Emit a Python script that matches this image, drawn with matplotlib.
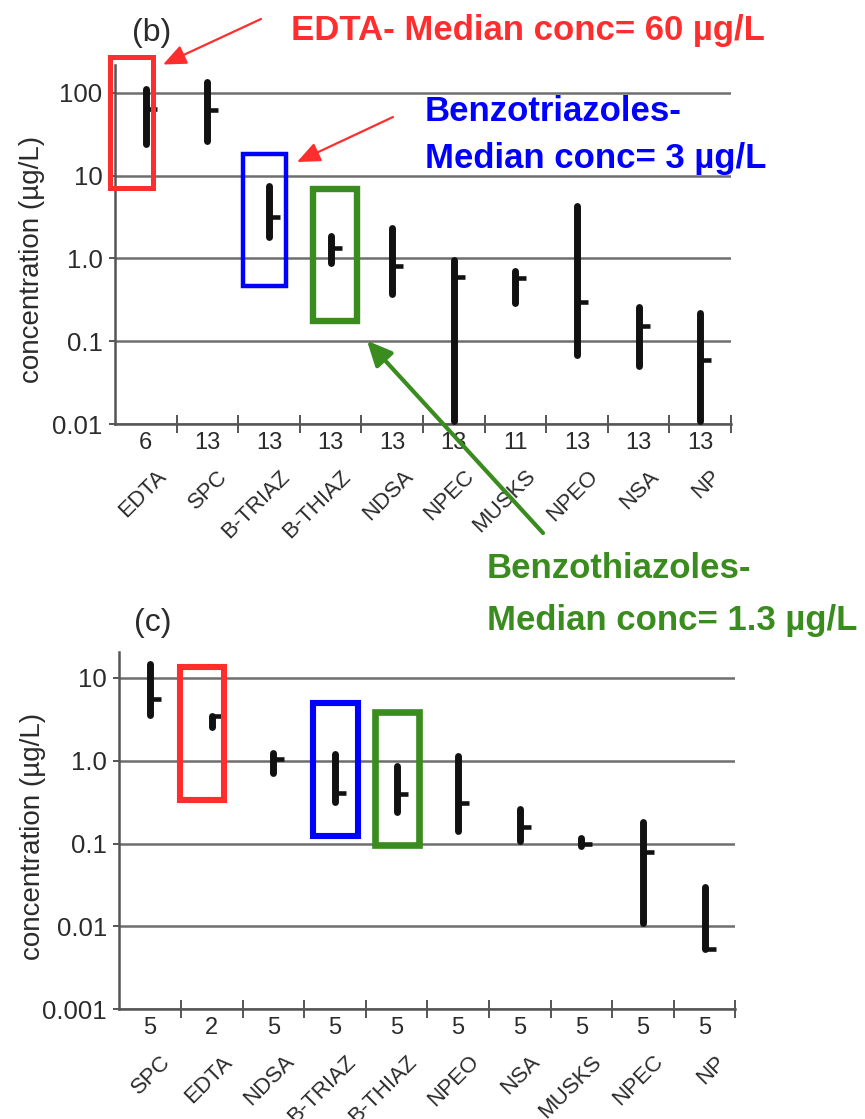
import matplotlib
matplotlib.use('Agg')
import matplotlib.pyplot as plt
from matplotlib.patches import Rectangle, FancyArrowPatch
from matplotlib.ticker import FixedLocator, NullLocator, FixedFormatter, NullFormatter
from matplotlib.transforms import offset_copy

plt.rcParams['font.family'] = ['Liberation Sans', 'DejaVu Sans']

# ---------------- data (panel b) ----------------
b_categories = ['EDTA', 'SPC', 'B-TRIAZ', 'B-THIAZ', 'NDSA', 'NPEC', 'MUSKS', 'NPEO', 'NSA', 'NP']
b_n = [6, 13, 13, 13, 13, 13, 11, 13, 13, 13]
b_min = [24, 26, 1.8, 0.89, 0.37, 0.011, 0.29, 0.068, 0.05, 0.011]
b_max = [110, 133, 7.5, 1.85, 2.35, 0.95, 0.70, 4.3, 0.26, 0.22]
b_median = [64, 61, 3.18, 1.35, 0.81, 0.60, 0.58, 0.30, 0.153, 0.060]
b_yticks = [0.01, 0.1, 1, 10, 100]
b_yticklabels = ['0.01', '0.1', '1.0', '10', '100']

# ---------------- data (panel c) ----------------
c_categories = ['SPC', 'EDTA', 'NDSA', 'B-TRIAZ', 'B-THIAZ', 'NPEO', 'NSA', 'MUSKS', 'NPEC', 'NP']
c_n = [5, 2, 5, 5, 5, 5, 5, 5, 5, 5]
c_min = [3.55, 2.55, 0.70, 0.32, 0.24, 0.14, 0.107, 0.094, 0.011, 0.0053]
c_max = [14.5, 3.5, 1.25, 1.2, 0.85, 1.15, 0.26, 0.115, 0.18, 0.030]
c_median = [5.5, 3.5, 1.04, 0.41, 0.40, 0.31, 0.16, 0.10, 0.080, 0.0053]
c_yticks = [0.001, 0.01, 0.1, 1, 10]
c_yticklabels = ['0.001', '0.01', '0.1', '1.0', '10']

W, H = 865, 1119
fig = plt.figure(figsize=(W / 100, H / 100), dpi=100)

TXT = '#2b2b2b'
AXC = '#555555'
GRC = '#6e6e6e'


def fx(x):
    return x / W


def fy(y):
    return 1 - y / H


def panel(rect_px, cats, n, lo, hi, med, yticks, ylabels, ylim,
          letter, letter_xy, ylabel_xy):
    left, top, right, bottom = rect_px
    ax = fig.add_axes([fx(left), fy(bottom), (right - left) / W, (bottom - top) / H])
    ax.set_yscale('log')
    ax.set_ylim(*ylim)
    ax.set_xlim(0.5, len(cats) + 0.5)
    xs = list(range(1, len(cats) + 1))

    # grid
    ax.yaxis.set_major_locator(FixedLocator(yticks))
    ax.yaxis.set_major_formatter(FixedFormatter(ylabels))
    ax.yaxis.set_minor_locator(NullLocator())
    ax.yaxis.set_minor_formatter(NullFormatter())
    ax.grid(axis='y', color=GRC, lw=1.8, zorder=0)
    ax.set_axisbelow(True)

    # x ticks at category boundaries
    ax.xaxis.set_major_locator(FixedLocator([i + 0.5 for i in xs]))
    ax.xaxis.set_major_formatter(NullFormatter())
    ax.tick_params(axis='x', direction='inout', length=13, width=1.4, color=AXC)
    ax.tick_params(axis='y', direction='out', length=4, width=1.4, color=AXC,
                   pad=5, labelsize=18.5, labelcolor=TXT)

    for s in ['top', 'right']:
        ax.spines[s].set_visible(False)
    for s in ['left', 'bottom']:
        ax.spines[s].set_color(AXC)
        ax.spines[s].set_linewidth(1.8)

    # range bars and median stubs
    ax.vlines(xs, lo, hi, colors='#111111', lw=5, capstyle='round', zorder=3, clip_on=False)
    ax.hlines(med, xs, [x + 0.18 for x in xs], colors='#111111', lw=3.3,
              capstyle='butt', zorder=3, clip_on=False)

    # counts and names below
    t_cnt = offset_copy(ax.get_xaxis_transform(), fig=fig, x=0, y=-19, units='dots')
    t_nam = offset_copy(ax.get_xaxis_transform(), fig=fig, x=10, y=-42, units='dots')
    for x, c, k in zip(xs, cats, n):
        ax.text(x, 0, str(k), transform=t_cnt, ha='center', va='center',
                fontsize=17, color=TXT)
        ax.text(x, 0, c, transform=t_nam, ha='right', va='top', rotation=45,
                rotation_mode='anchor', fontsize=16, color=TXT)

    ax.text(ylabel_xy[0], ylabel_xy[1], 'concentration (µg/L)', transform=ax.transAxes,
            rotation=90, ha='center', va='center', fontsize=20, color=TXT)
    fig.text(fx(letter_xy[0]), fy(letter_xy[1]), letter, ha='center', va='center',
             fontsize=23, color=TXT)
    return ax


axb = panel((115, 65, 731, 424), b_categories, b_n, b_min, b_max, b_median,
            b_yticks, b_yticklabels, (0.01, 216), '(b)', (151.5, 33), (-0.135, 0.457))
axc = panel((119.3, 651.7, 735.3, 1009.3), c_categories, c_n, c_min, c_max, c_median,
            c_yticks, c_yticklabels, (0.001, 20.6), '(c)', (153, 622.5), (-0.140, 0.483))

RED = '#ff2e2e'
BLUE = '#0000ff'
GREEN = '#3a8c1e'


def rect(x0, y0, x1, y1, color, lw):
    fig.add_artist(Rectangle((fx(x0), fy(y1)), (x1 - x0) / W, (y1 - y0) / H,
                             transform=fig.transFigure, fill=False, ec=color, lw=lw,
                             zorder=10))


def arrow(x0, y0, x1, y1, color, lw, hl, hw):
    fig.add_artist(FancyArrowPatch((fx(x0), fy(y0)), (fx(x1), fy(y1)),
                                   transform=fig.transFigure,
                                   arrowstyle='-|>,head_length=%s,head_width=%s' % (hl, hw),
                                   mutation_scale=20, color=color, lw=lw,
                                   shrinkA=0, shrinkB=0, zorder=10))


# panel b boxes
rect(110, 57, 152.5, 188, RED, 3.6)
rect(243, 154, 286, 285.5, BLUE, 3.2)
rect(313.3, 189.3, 356.7, 321, GREEN, 4.6)
# panel c boxes
rect(179.7, 667.3, 224.3, 800.3, RED, 4.4)
rect(313, 703, 357.7, 836.3, BLUE, 4.4)
rect(375, 712.3, 419.3, 845, GREEN, 4.8)

arrow(261, 19, 163, 64.5, RED, 1.6, 0.7, 0.3)
arrow(393, 117, 297, 162, RED, 1.6, 0.7, 0.3)
arrow(543, 533, 367, 340.7, GREEN, 3.0, 0.75, 0.35)

fig.text(fx(291), fy(40), 'EDTA- Median conc= 60 µg/L', color=RED, fontsize=25,
         fontweight='bold', ha='left', va='baseline')
fig.text(fx(425), fy(120.7), 'Benzotriazoles-', color=BLUE, fontsize=25,
         fontweight='bold', ha='left', va='baseline')
fig.text(fx(425), fy(168.3), 'Median conc= 3 µg/L', color=BLUE, fontsize=25,
         fontweight='bold', ha='left', va='baseline')
fig.text(fx(487), fy(578), 'Benzothiazoles-', color=GREEN, fontsize=25,
         fontweight='bold', ha='left', va='baseline')
fig.text(fx(487), fy(630), 'Median conc= 1.3 µg/L', color=GREEN, fontsize=25,
         fontweight='bold', ha='left', va='baseline')

fig.savefig('out.png', dpi=100, facecolor='white')
